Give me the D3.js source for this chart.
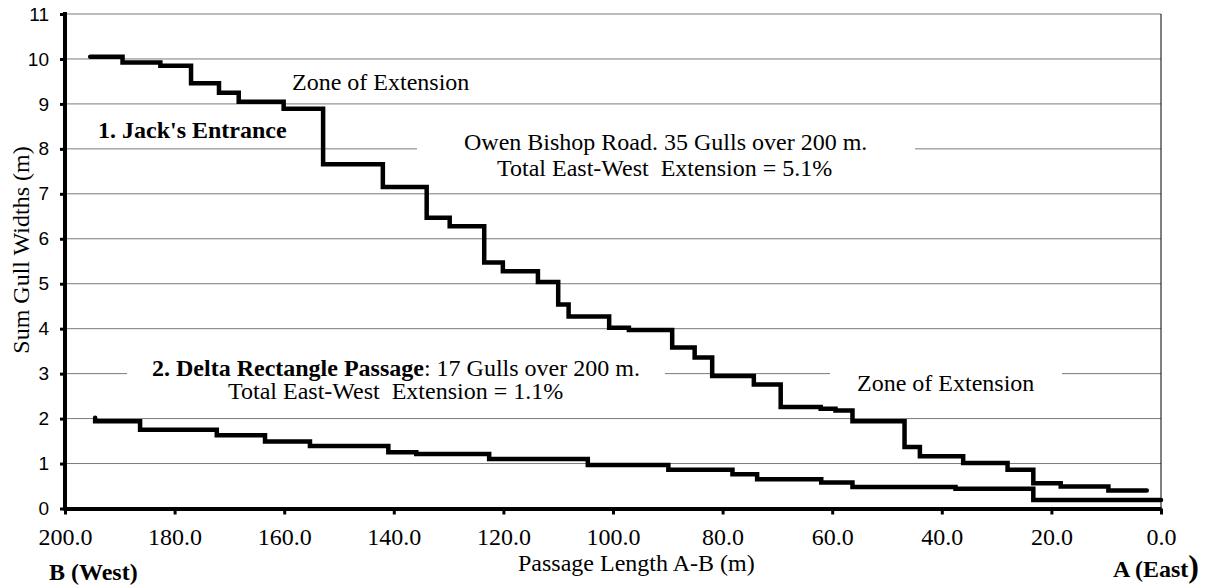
<!DOCTYPE html>
<html>
<head>
<meta charset="utf-8">
<script src="https://cdn.jsdelivr.net/npm/d3@7"></script>
<style>
  body { margin: 0; background: #fff; }
  text { font-family: "Liberation Serif", "Times New Roman", serif; white-space: pre; fill: #000; }
  .ytick text { font-family: "Liberation Sans", Arial, sans-serif; }
</style>
</head>
<body>
<svg id="chart" width="1206" height="587"></svg>
<script>
// passage distance from A (m) where each gull step starts, and summed gull width after it
var jackDist = [195.4, 189.5, 182.6, 177.0, 171.9, 168.3, 160.1, 152.9, 142.0, 134.0, 129.8, 123.5,
                120.1, 113.7, 110.0, 108.1, 100.7, 97.1, 89.2, 85.1, 81.9, 74.3, 69.4, 62.1, 59.4,
                56.3, 46.8, 44.0, 36.1, 28.0, 23.3, 18.3, 9.6, 2.6];
var jackSum  = [10.05, 9.92, 9.85, 9.46, 9.25, 9.05, 8.89, 7.66, 7.15, 6.47, 6.28, 5.47,
                5.28, 5.04, 4.54, 4.27, 4.02, 3.97, 3.58, 3.36, 2.95, 2.76, 2.26, 2.22, 2.18,
                1.94, 1.37, 1.16, 1.01, 0.86, 0.56, 0.49, 0.40, 0.40];

var deltaDist = [194.5, 194.5, 186.3, 172.3, 163.5, 155.3, 141.0, 135.9, 122.6, 104.6, 89.9,
                 78.2, 73.7, 62.0, 56.3, 37.5, 23.3, 0.0];
var deltaSum  = [2.02, 1.94, 1.75, 1.63, 1.49, 1.39, 1.25, 1.21, 1.10, 0.97, 0.86,
                 0.76, 0.65, 0.58, 0.48, 0.44, 0.19, 0.19];

var xTicks = [200, 180, 160, 140, 120, 100, 80, 60, 40, 20, 0];
var yTicks = [0, 1, 2, 3, 4, 5, 6, 7, 8, 9, 10, 11];

var svg = d3.select("#chart");

var x = d3.scaleLinear().domain([200, 0]).range([65, 1161]);
var y = d3.scaleLinear().domain([0, 11]).range([508.5, 14]);

// gridlines
svg.append("g").selectAll("line")
    .data(yTicks.slice(1))
  .enter().append("line")
    .attr("x1", x(200)).attr("x2", x(0))
    .attr("y1", function(d) { return y(d); })
    .attr("y2", function(d) { return y(d); })
    .attr("stroke", "#7a7a7a")
    .attr("stroke-width", 1);

// right border
svg.append("line")
    .attr("x1", x(0)).attr("x2", x(0))
    .attr("y1", y(11)).attr("y2", y(0))
    .attr("stroke", "#000").attr("stroke-width", 1);

// white text boxes that cut the gridlines
var boxes = [[417, 122, 498, 60], [127, 352, 538, 56], [830, 364, 232, 34]];
svg.append("g").selectAll("rect")
    .data(boxes)
  .enter().append("rect")
    .attr("x", function(d) { return d[0]; })
    .attr("y", function(d) { return d[1]; })
    .attr("width", function(d) { return d[2]; })
    .attr("height", function(d) { return d[3]; })
    .attr("fill", "#fff");

// axes
var xAxis = d3.axisBottom(x).tickValues(xTicks).tickFormat(d3.format(".1f"))
    .tickSize(6).tickSizeOuter(0).tickPadding(12);
var gx = svg.append("g")
    .attr("transform", "translate(0," + y(0) + ")")
    .call(xAxis);
gx.select(".domain").attr("stroke-width", 4);
gx.selectAll(".tick line").attr("stroke-width", 3);
gx.selectAll(".tick text")
    .attr("font-size", 24)
    .attr("font-family", "Liberation Serif, serif")
    .attr("dy", "0.75em");

var yAxis = d3.axisLeft(y).tickValues(yTicks).tickSize(5).tickSizeOuter(0).tickPadding(11);
var gy = svg.append("g")
    .attr("class", "ytick")
    .attr("transform", "translate(" + x(200) + ",0)")
    .call(yAxis);
gy.select(".domain").attr("stroke-width", 4).attr("d", "M0," + (y(11) - 2) + "V" + (y(0) + 2));
gy.selectAll(".tick line").attr("stroke-width", 3);
gy.selectAll(".tick text")
    .attr("font-size", 19)
    .attr("font-family", "Liberation Sans, Arial, sans-serif");

// step lines
var stepLine = d3.line()
    .x(function(d) { return x(d[0]); })
    .y(function(d) { return y(d[1]); })
    .curve(d3.curveStepAfter);

[d3.zip(jackDist, jackSum), d3.zip(deltaDist, deltaSum)].forEach(function(pts) {
  svg.append("path")
      .datum(pts)
      .attr("d", stepLine)
      .attr("fill", "none")
      .attr("stroke", "#000")
      .attr("stroke-width", 4.5)
      .attr("stroke-linecap", "round")
      .attr("stroke-linejoin", "miter");
});

// annotations
function label(tx, ty, str, bold, size) {
  return svg.append("text")
      .attr("x", tx).attr("y", ty)
      .attr("font-size", size || 24)
      .attr("font-weight", bold ? "bold" : "normal")
      .text(str);
}

label(292, 90, "Zone of Extension");
label(98, 138, "1. Jack's Entrance", true);
label(464, 150, "Owen Bishop Road. 35 Gulls over 200 m.");
label(497, 176, "Total East-West  Extension = 5.1%");

var delta = label(152, 376, "");
delta.append("tspan").attr("font-weight", "bold").text("2. Delta Rectangle Passage");
delta.append("tspan").text(": 17 Gulls over 200 m.");
label(228, 399, "Total East-West  Extension = 1.1%");
label(857, 391, "Zone of Extension");

// axis titles
svg.append("text")
    .attr("transform", "translate(29,250) rotate(-90)")
    .attr("text-anchor", "middle")
    .attr("font-size", 24)
    .text("Sum Gull Widths (m)");

label(518, 571, "Passage Length A-B (m)");
label(49, 580, "B (West)", true);
var east = label(1113, 577, "A (East", true);
east.append("tspan").attr("font-size", 32).text(")");
</script>
</body>
</html>
